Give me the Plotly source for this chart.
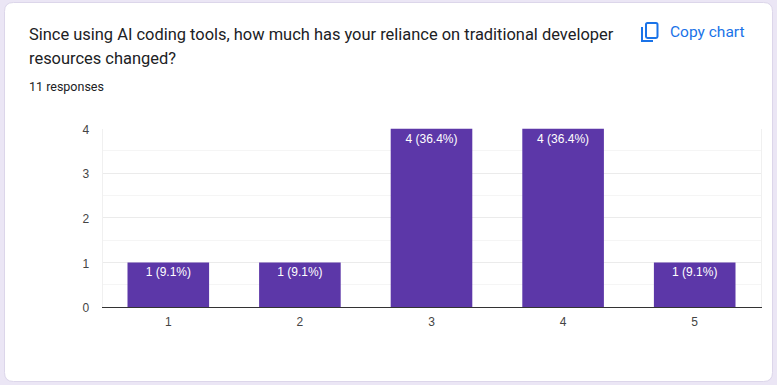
import plotly.graph_objects as go

W, H = 777, 385
categories = ["1", "2", "3", "4", "5"]
counts = [1, 1, 4, 4, 1]
labels = ["1 (9.1%)", "1 (9.1%)", "4 (36.4%)", "4 (36.4%)", "1 (9.1%)"]
y_ticks = [0, 1, 2, 3, 4]
title_line_1 = "Since using AI coding tools, how much has your reliance on traditional developer"
title_line_2 = "resources changed?"
PURPLE = "#5c37a8"
BLUE = "#1a73e8"
BG = "#ebe6f5"

L, R, T, B = 102.5, 760.5, 128.5, 307


def px(x):
    return x / W


def py(y):
    return 1 - y / H


def path(points, close=True):
    s = "M " + " L ".join(f"{px(x):.5f},{py(y):.5f}" for x, y in points)
    return s + (" Z" if close else "")


def rounded(x0, y0, x1, y1, r):
    X0, X1, Y0, Y1 = px(x0), px(x1), py(y0), py(y1)
    rx, ry = r / W, r / H
    return (
        f"M {X0+rx:.5f},{Y0:.5f} L {X1-rx:.5f},{Y0:.5f} Q {X1:.5f},{Y0:.5f} {X1:.5f},{Y0-ry:.5f} "
        f"L {X1:.5f},{Y1+ry:.5f} Q {X1:.5f},{Y1:.5f} {X1-rx:.5f},{Y1:.5f} "
        f"L {X0+rx:.5f},{Y1:.5f} Q {X0:.5f},{Y1:.5f} {X0:.5f},{Y1+ry:.5f} "
        f"L {X0:.5f},{Y0-ry:.5f} Q {X0:.5f},{Y0:.5f} {X0+rx:.5f},{Y0:.5f} Z"
    )


fig = go.Figure(
    go.Bar(
        x=categories,
        y=counts,
        text=labels,
        textposition="inside",
        insidetextanchor="end",
        textangle=0,
        insidetextfont=dict(family="Liberation Sans, Arial", size=12, color="white"),
        marker=dict(color=PURPLE, line=dict(width=0)),
        hoverinfo="skip",
        cliponaxis=False,
    )
)

shapes = [
    dict(type="path", xref="paper", yref="paper", path=rounded(4.5, 2.5, 772.5, 381.5, 9),
         fillcolor="white", line=dict(color="#dcd6ea", width=1), layer="below"),
    dict(type="path", xref="paper", yref="paper", path=rounded(646, 23, 657.5, 38, 1.5),
         fillcolor="rgba(0,0,0,0)", line=dict(color=BLUE, width=2), layer="above"),
    dict(type="path", xref="paper", yref="paper",
         path=path([(642, 27), (642, 41), (653, 41)], close=False),
         line=dict(color=BLUE, width=2), layer="above"),
]


def note(text, x, y, size, color):
    return dict(text=text, x=px(x), y=py(y), xref="paper", yref="paper", xanchor="left", yanchor="middle",
                align="left", showarrow=False, borderpad=0, borderwidth=0,
                font=dict(family="Roboto", size=size, color=color))


annotations = [
    note(title_line_1, 28.5, 34, 16.45, "#202124"),
    note(title_line_2, 28.5, 58, 16.45, "#202124"),
    note("11 responses", 28.5, 87, 12.5, "#202124"),
    note("Copy chart", 669.5, 32, 15.5, BLUE),
]

fig.update_layout(
    width=W, height=H, autosize=False,
    margin=dict(l=0, r=0, t=0, b=0, pad=0),
    paper_bgcolor=BG, plot_bgcolor="rgba(0,0,0,0)",
    showlegend=False, bargap=0.38,
    shapes=shapes, annotations=annotations,
    xaxis=dict(domain=[px(L), px(R)], type="category", showgrid=False, ticks="", ticklen=0,
               showline=True, linecolor="#333333", linewidth=1, ticklabelstandoff=4,
               tickfont=dict(family="Liberation Sans, Arial", size=12, color="#444444"), automargin=False,
               zeroline=False),
    yaxis=dict(domain=[py(B), py(T)], range=[0, 4], tickvals=y_ticks, ticks="", ticklen=0,
               showgrid=True, gridcolor="#ebebeb", gridwidth=1, zeroline=False, showline=True, mirror=True,
               linecolor="#f0f0f0", linewidth=1, ticklabelstandoff=10, ticklabelshift=1,
               tickfont=dict(family="Liberation Sans, Arial", size=12, color="#444444"), automargin=False,
               minor=dict(dtick=0.5, tick0=0, showgrid=True, gridcolor="#f5f5f5", gridwidth=1, ticks="")),
)

fig.write_html(
    "out.html",
    config={"displayModeBar": False},
    post_script="document.body.style.margin='0';document.body.style.overflow='hidden';",
)
